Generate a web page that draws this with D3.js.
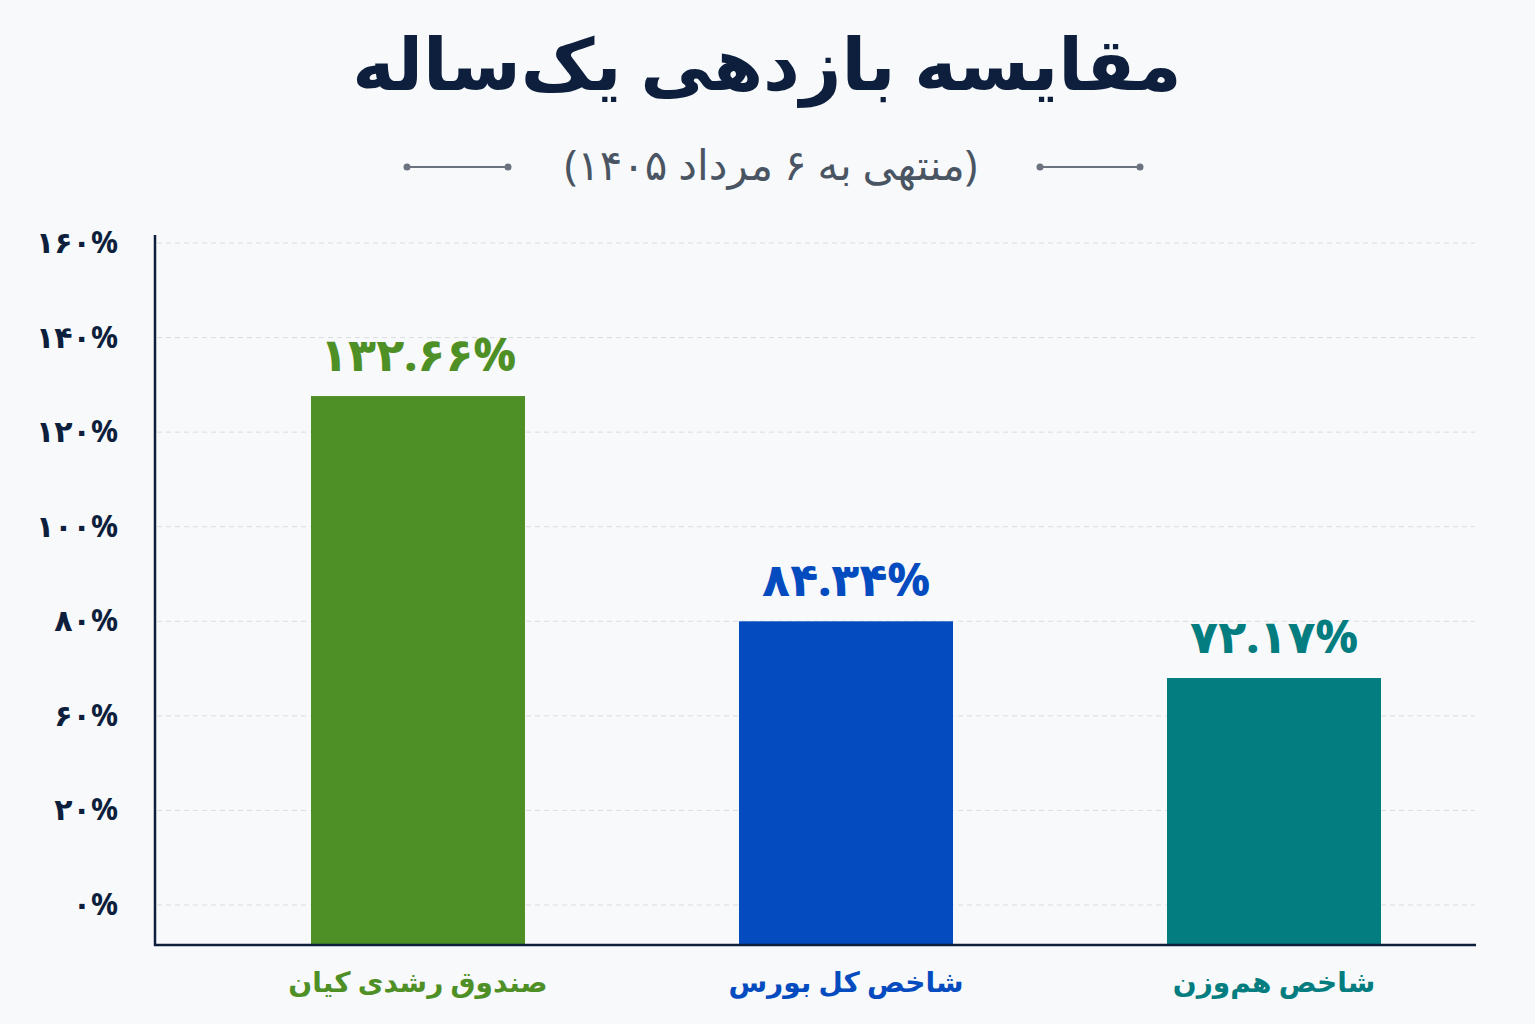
<!DOCTYPE html>
<html><head><meta charset="utf-8">
<script src="https://cdn.jsdelivr.net/npm/d3@7"></script>
<style>body{margin:0;background:#f8f9fa;font-family:"Noto Sans","DejaVu Sans",sans-serif;}</style>
</head><body>
<svg id="c" width="1535" height="1024"></svg>
<script>
const categories = ["صندوق رشدی کیان", "شاخص کل بورس", "شاخص هم‌وزن"];
const values = [132.66, 84.34, 72.17];
const valueLabels = ["۱۳۲.۶۶%", "۸۴.۳۴%", "۷۲.۱۷%"];
const colors = ["#4e8f26", "#034bbf", "#037d80"];
const tickLabels = ["۱۶۰%", "۱۴۰%", "۱۲۰%", "۱۰۰%", "۸۰%", "۶۰%", "۲۰%", "۰%"];

const svg = d3.select("#c");
svg.append("rect").attr("width",1535).attr("height",1024).attr("fill","#f8f9fa");

svg.append("text").attr("x",767).attr("y",90).attr("text-anchor","middle")
  .attr("font-size",72).attr("font-weight",900).attr("fill","#0d1f3c").attr("direction","rtl")
  .text("مقایسه بازدهی یک‌ساله");
svg.append("text").attr("x",771).attr("y",180).attr("text-anchor","middle")
  .attr("font-size",42).attr("fill","#4a5563").attr("direction","rtl")
  .text("(منتهی به ۶ مرداد ۱۴۰۵)");
[[407,508],[1040,1140]].forEach(([a,b])=>{
  svg.append("line").attr("x1",a).attr("x2",b).attr("y1",167).attr("y2",167).attr("stroke","#6b7280").attr("stroke-width",2);
  [a,b].forEach(x=>svg.append("circle").attr("cx",x).attr("cy",167).attr("r",3.5).attr("fill","#6b7280"));
});

const tickY = d3.scalePoint().domain(tickLabels).range([243,905]);
tickLabels.forEach(t=>{
  svg.append("line").attr("x1",157).attr("x2",1475).attr("y1",tickY(t)).attr("y2",tickY(t))
    .attr("stroke","#d9dde3").attr("stroke-dasharray","5,4");
  svg.append("text").attr("x",118).attr("y",tickY(t)+10).attr("text-anchor","end")
    .attr("font-size",30).attr("font-weight",700).attr("fill","#0d1f3c").text(t);
});

const x = d3.scaleBand().domain(categories).range([204,1488]).paddingInner(0.5).paddingOuter(0.25);
const y = d3.scaleLinear().domain([14.9,160]).range([945,268.6]);

categories.forEach((c,i)=>{
  const bx = x(c), bw = x.bandwidth(), cx = bx+bw/2;
  svg.append("rect").attr("x",bx).attr("y",y(values[i])).attr("width",bw)
    .attr("height",945-y(values[i])).attr("fill",colors[i]);
  svg.append("text").attr("x",cx).attr("y",y(values[i])-25).attr("text-anchor","middle")
    .attr("font-size",46).attr("font-weight",800).attr("fill",colors[i]).text(valueLabels[i]);
  svg.append("text").attr("x",cx).attr("y",992).attr("text-anchor","middle").attr("direction","rtl")
    .attr("font-size",28).attr("font-weight",700).attr("fill",colors[i]).text(c);
});

svg.append("line").attr("x1",155).attr("x2",155).attr("y1",235).attr("y2",946).attr("stroke","#0d1f3c").attr("stroke-width",2.5);
svg.append("line").attr("x1",154).attr("x2",1476).attr("y1",945).attr("y2",945).attr("stroke","#0d1f3c").attr("stroke-width",2.5);
</script>
</body></html>
